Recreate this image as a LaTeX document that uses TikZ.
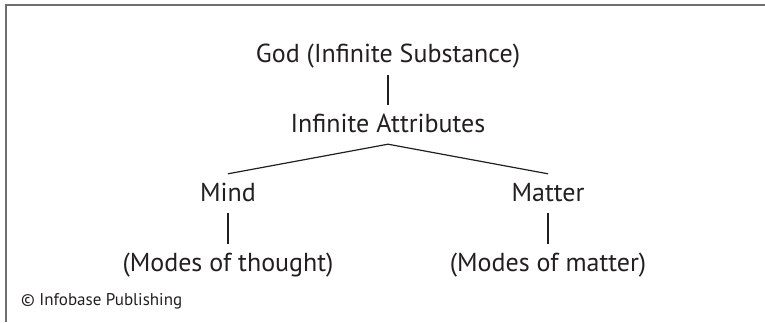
\documentclass[tikz,border=0pt]{standalone}
\usepackage{fontspec}
\setmainfont{PT Sans}
\usepackage{xcolor}
\usetikzlibrary{trees}
\definecolor{inkgray}{HTML}{231F20}
\definecolor{framegray}{HTML}{6D6E71}

\begin{document}
\begin{tikzpicture}[
  x=1pt,y=1pt,
  termnode/.style={inner sep=0pt,text height=27pt,text depth=12pt,font=\fontsize{26}{30}\selectfont,text=inkgray},
  creditnode/.style={anchor=base west,inner sep=0pt,font=\fontsize{17}{20}\selectfont,text=inkgray},
  level 1/.style={level distance=69pt},
  level 2/.style={sibling distance=320pt, level distance=69pt},
  level 3/.style={level distance=70pt},
  edge from parent/.style={draw=inkgray,line width=1.2pt},
  parent anchor=south, child anchor=north
]
\useasboundingbox (0,0) rectangle (765,322);

% frame (top and left only)
\draw[framegray,line width=2pt] (765,317) -- (6,317) -- (6,0);

% Root
\node[termnode] (god) at (388,266.5) {God (Infinite Substance)}
  child { node[termnode] (attr) {Infinite Attributes}
    % left branch
    child { node[termnode] (mind) {Mind}
      child { node[termnode] (thought) {(Modes of thought)} }
    }
    % right branch
    child { node[termnode] (matter) {Matter}
      child { node[termnode] (modesmatter) {(Modes of matter)} }
    }
  };

\node[creditnode] (credit) at (21,17) {\textcopyright{} Infobase Publishing};

\end{tikzpicture}
\end{document}
